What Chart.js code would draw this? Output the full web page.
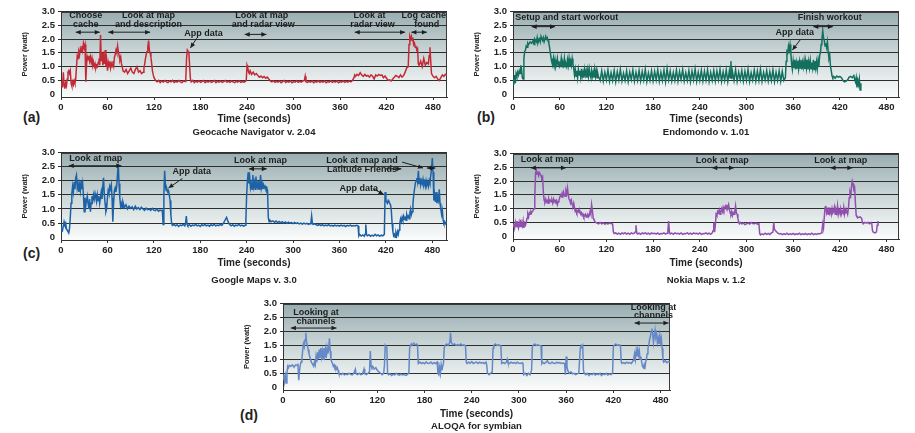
<!DOCTYPE html>
<html lang="en">
<head>
  <meta charset="UTF-8" />
  <title>Power traces of map apps</title>
  <script src="https://cdn.jsdelivr.net/npm/chart.js@4"></script>
  <style>
    body {
      margin: 0;
      background: #fff;
      font-family: "Liberation Sans", Arial, sans-serif;
    }
    #wrap {
      position: relative;
      width: 915px;
      height: 433px;
      overflow: hidden;
    }
    canvas {
      position: absolute;
    }
    .tag {
      position: absolute;
      font-weight: bold;
      font-size: 14px;
      color: #222;
    }
  </style>
</head>
<body>
  <div id="wrap">
    <div class="tag" style="left:23px;top:109px">(a)</div>
    <div class="tag" style="left:477px;top:109px">(b)</div>
    <div class="tag" style="left:23px;top:245px">(c)</div>
    <div class="tag" style="left:240px;top:407px">(d)</div>
  </div>

  <script>
    const FONT = '"Liberation Sans", Arial, sans-serif';

    // axes
    const xTicks = [0, 60, 120, 180, 240, 300, 360, 420, 480];
    const yTicks = [0, 0.5, 1, 1.5, 2, 2.5, 3];
    const yTickLabels = ['0', '0.5', '1.0', '1.5', '2.0', '2.5', '3.0'];

    // [seconds, watt]
    const geocacheTrace = [
      [0,.30],[1,.45],[2,.25],[3,.80],[4,.35],[5,.20],[6,.40],[7,.30],[8,.55],[9,.80],[10,.85],[11,.75],[12,.85],[13,.40],[14,.30],[15,.45],[16,.35],[17,.50],[18,.40],[19,.55],
      [20,1.00],[21,1.40],[22,1.30],[23,1.55],[24,1.45],[25,1.65],[26,1.55],[27,1.75],[28,1.60],[29,1.85],[30,1.70],[31,1.80],[32,.45],[33,1.10],[34,1.35],[35,1.25],[36,1.40],[37,1.20],[38,1.35],[39,1.15],
      [40,1.30],[41,1.05],[42,1.15],[43,1.00],[44,1.10],[45,.95],[46,1.05],[47,1.00],[48,1.15],[49,1.30],[50,1.05],[51,2.15],[52,1.20],[53,1.50],[54,1.05],[55,1.35],[56,1.10],[57,1.60],[58,1.00],[59,1.20],
      [60,.85],[61,1.15],[62,1.00],[63,1.20],[64,.95],[65,1.10],[66,1.00],[67,1.20],[68,1.05],[69,1.35],[70,1.45],[71,1.60],[72,1.50],[73,1.75],[74,1.55],[75,1.40],[76,1.25],[77,1.35],[78,1.10],[79,1.00],
      [80,.85],[82,.80],[84,.90],[86,.75],[88,.85],[90,.95],[92,.80],[94,.75],[96,.90],[98,1.00],[100,.80],[102,.85],[104,.75],[106,.80],[107,.95],[108,1.10],[109,1.30],[110,1.45],[111,1.55],[112,1.70],
      [113,1.95],[114,1.60],[115,1.50],[116,1.35],[117,1.10],[118,.85],[119,.70],[120,.60],[122,.50],[124,.45],[126,.50],[128,.42],[130,.48],[132,.44],[134,.50],[136,.45],[138,.42],[140,.48],[142,.45],[144,.50],
      [146,.43],[148,.47],[150,.44],[152,.50],[154,.45],[156,.42],[158,.48],[160,.46],[161,.55],[162,1.30],[163,1.60],[164,1.55],[165,1.50],[166,1.00],[167,.55],[168,.45],[170,.50],[172,.42],[174,.47],[176,.44],
      [178,.49],[180,.43],[182,.46],[184,.50],[186,.42],[188,.47],[190,.44],[192,.48],[194,.43],[196,.46],[198,.50],[200,.42],[202,.47],[204,.44],[206,.48],[208,.43],[210,.46],[212,.50],[214,.44],[216,.47],
      [218,.43],[220,.48],[222,.45],[224,.42],[226,.47],[228,.44],[230,.49],[232,.43],[234,.46],[236,.44],[238,.47],[239,.50],[240,1.05],[241,.95],[242,.80],[243,.75],[244,.85],[246,.72],[248,.80],[250,.70],
      [252,.75],[254,.68],[256,.62],[258,.66],[260,.60],[262,.64],[264,.58],[266,.62],[268,.55],[270,.48],[272,.45],[274,.49],[276,.43],[278,.47],[280,.44],[282,.48],[284,.42],[286,.46],[288,.50],[290,.43],
      [292,.47],[294,.44],[296,.48],[298,.42],[300,.46],[302,.44],[304,.49],[306,.43],[308,.47],[310,.44],[312,.48],[314,.50],[315,.65],[316,.45],[318,.43],[320,.47],[322,.44],[324,.48],[326,.42],[328,.46],
      [330,.44],[332,.49],[334,.43],[336,.47],[338,.44],[340,.48],[342,.42],[344,.46],[346,.44],[348,.49],[350,.43],[352,.47],[354,.44],[356,.48],[358,.42],[360,.46],[362,.44],[364,.48],[366,.43],[368,.47],
      [370,.44],[372,.48],[374,.45],[376,.50],[378,.60],[379,.70],[380,.65],[382,.72],[384,.68],[386,.78],[388,.70],[390,.65],[392,.72],[394,.66],[396,.68],[398,.62],[400,.70],[402,.65],[404,.55],[406,.70],
      [408,.66],[410,.72],[412,.68],[414,.70],[416,.60],[418,.66],[420,.58],[422,.50],[424,.52],[426,.48],[428,.55],[430,.62],[432,.68],[434,.65],[436,.60],[438,.70],[440,.62],[442,.68],[444,.80],[446,.95],
      [448,1.00],[449,1.80],[450,2.10],[451,2.00],[452,2.10],[453,1.95],[454,2.05],[455,1.80],[456,1.85],[457,1.70],[458,1.75],[459,1.60],[460,1.65],[461,1.10],[462,1.05],[464,1.20],[466,1.00],[468,1.30],[470,1.05],[472,1.15],
      [474,1.10],[475,1.40],[476,1.70],[477,1.20],[478,.75],[480,.65],[482,.60],[484,.65],[486,.55],[488,.50],[490,.60],[492,.70],[494,.65],[496,.72],[498,.68]
    ];

    const endomondoTrace = [
      [0,.55],[1,.35],[2,.70],[3,.40],[4,.75],[5,.65],[6,.80],[7,.70],[8,.85],[9,.75],[10,1.05],[11,.90],[12,.60],[13,.55],[14,1.30],[15,1.55],[16,1.60],[17,1.75],[18,1.70],[19,1.85],
      [20,1.80],[22,1.90],[24,1.85],[26,1.95],[27,1.80],[28,2.00],[30,1.90],[31,2.05],[32,1.85],[34,2.00],[35,1.90],[36,2.10],[38,1.95],[39,2.05],[40,1.90],[42,2.10],[43,2.00],[44,2.05],[45,1.95],[46,1.85],
      [47,1.70],[48,1.50],[49,1.30],[50,1.15],[51,1.05],[52,1.30],[53,1.05],[54,1.25],[55,1.00],[56,1.10],[57,1.30],[58,1.05],[59,1.20],[60,1.00],[61,1.05],[62,1.30],[63,1.00],[64,1.15],[65,1.05],[66,1.30],
      [67,1.00],[68,1.10],[69,1.00],[70,1.25],[71,1.05],[72,1.30],[73,1.00],[74,1.20],[75,1.05],[76,1.30],[77,1.10],[78,.95],[79,.70],[80,.90],[81,.65],[82,.85],[83,.60],[84,.90],[85,.70],[86,.85],
      [87,.62],[88,.92],[89,.65],[90,.80],[91,.60],[92,.90],[93,.70],[94,.85],[95,.60],[96,.88],[97,.65],[98,.92],[99,.70],[100,.60],[101,.85],[102,.65],[103,.80],[104,.60],[105,.90],[106,.65],
      [107,.85],[108,.60],[109,.75],[110,.62],[111,.58],[112,.50],[114,.85],[116,.48],[118,.80],[120,.52],[122,.88],[124,.47],[126,.78],[128,.50],[130,.86],[132,.46],[134,.82],[136,.52],[138,.90],[140,.48],
      [142,.76],[144,.50],[146,.85],[148,.46],[150,.80],[152,.53],[154,.88],[156,.47],[158,.79],[160,.50],[162,.86],[164,.48],[166,.82],[168,.51],[170,.90],[172,.46],[174,.77],[176,.50],[178,.85],[180,.48],
      [182,.83],[184,.52],[186,.89],[188,.47],[190,.80],[192,.50],[194,.87],[196,.46],[198,.93],[200,.52],[202,.84],[204,.48],[206,.79],[208,.50],[210,.88],[212,.47],[214,.82],[216,.53],[218,.90],[220,.48],
      [222,.78],[224,.50],[226,.86],[228,.46],[230,.84],[232,.52],[234,.92],[236,.47],[238,.80],[240,.50],[242,.87],[244,.48],[246,.83],[248,.51],[250,.89],[252,.46],[254,.79],[256,.50],[258,.86],[260,.48],
      [262,.84],[264,.52],[266,.90],[268,.47],[270,.81],[272,.50],[274,.88],[276,.46],[278,.85],[279,.60],[280,1.20],[281,.55],[282,.82],[284,.50],[286,.89],[288,.47],[290,.80],[292,.52],[294,.86],[296,.48],
      [298,.83],[300,.50],[302,.90],[304,.46],[306,.78],[308,.51],[310,.87],[312,.48],[314,.84],[316,.50],[318,.91],[320,.47],[322,.79],[324,.52],[326,.86],[328,.48],[330,.82],[332,.50],[334,.88],[336,.46],
      [338,.80],[340,.50],[342,.85],[344,.47],[346,.83],[348,.50],[350,.60],[351,1.20],[352,1.55],[353,1.50],[354,1.75],[355,1.60],[356,1.80],[357,1.50],[358,1.10],[359,.90],[360,1.20],[361,.95],[362,1.25],[363,.90],
      [364,1.15],[365,.95],[366,1.22],[367,.92],[368,1.18],[369,.95],[370,1.25],[371,.90],[372,1.15],[373,.98],[374,1.22],[375,.92],[376,1.20],[377,.95],[378,1.25],[379,.90],[380,1.18],[381,.96],[382,1.22],[383,.92],
      [384,1.15],[385,.95],[386,1.25],[387,.90],[388,1.20],[389,.95],[390,1.18],[391,.92],[392,1.22],[393,1.00],[394,1.40],[395,1.50],[396,1.80],[397,2.00],[398,2.30],[399,2.05],[400,1.95],[401,1.75],[402,1.85],[403,1.70],
      [404,1.90],[405,1.55],[406,1.30],[407,1.40],[408,1.00],[409,.85],[410,.65],[411,.60],[412,.65],[414,.58],[416,.66],[418,.62],[420,.65],[422,.60],[424,.50],[426,.45],[428,.48],[430,.52],[432,.62],[434,.65],
      [436,.60],[438,.68],[439,.55],[440,.45],[441,.60],[442,.25],[443,.50],[444,.35],[445,.55],[446,.15],[447,.40]
    ];

    const googleTrace = [
      [0,.20],[1,.30],[2,.25],[3,.40],[4,.55],[5,.45],[6,.50],[7,.30],[8,.25],[9,.20],[10,.15],[11,.30],[12,.70],[13,1.20],[14,1.55],[15,1.80],[16,1.60],[17,1.95],[18,1.70],[19,2.10],
      [20,2.20],[21,1.75],[22,1.90],[23,1.60],[24,1.85],[25,1.65],[26,2.00],[27,1.70],[28,1.90],[29,1.50],[30,.90],[31,1.40],[32,1.10],[33,1.30],[34,1.45],[35,1.20],[36,1.00],[37,1.35],[38,.90],[39,1.20],
      [40,1.45],[41,1.30],[42,1.50],[43,1.35],[44,1.55],[45,1.40],[46,1.25],[47,1.50],[48,1.30],[49,1.45],[50,1.20],[51,1.40],[52,1.60],[53,1.35],[54,1.80],[55,2.10],[56,1.50],[57,1.20],[58,.90],[59,1.00],
      [60,1.40],[61,1.65],[62,1.55],[63,1.80],[64,1.70],[65,1.85],[66,1.40],[67,.55],[68,1.20],[69,1.65],[70,1.75],[71,1.60],[72,1.80],[73,2.20],[74,2.60],[75,1.90],[76,1.40],[77,1.10],[78,1.20],[79,1.05],
      [80,1.25],[82,1.05],[84,1.15],[86,1.00],[88,1.10],[90,1.02],[92,1.08],[94,.98],[96,1.10],[98,1.00],[100,1.05],[102,.98],[104,1.06],[106,1.00],[108,.95],[110,1.03],[112,.98],[114,1.00],[116,.95],[118,1.02],
      [120,.96],[122,.94],[124,1.00],[126,.92],[128,.96],[130,.94],[131,.95],[132,.45],[133,1.50],[134,2.35],[135,1.80],[136,1.65],[137,1.70],[138,1.60],[139,1.65],[140,1.50],[141,1.30],[142,.80],[143,.50],
      [144,.42],[146,.45],[148,.40],[150,.44],[152,.38],[154,.43],[156,.41],[158,.45],[160,.40],[161,.48],[162,.75],[163,.45],[164,.40],[166,.44],[168,.39],[170,.43],[172,.41],[174,.45],[176,.40],[178,.43],
      [180,.38],[182,.44],[184,.41],[186,.45],[188,.40],[190,.43],[192,.39],[194,.44],[196,.41],[198,.45],[200,.40],[202,.43],[204,.41],[206,.45],[208,.42],[210,.50],[212,.60],[214,.70],[216,.55],[218,.45],
      [220,.40],[222,.44],[224,.39],[226,.43],[228,.41],[230,.45],[232,.40],[234,.43],[236,.39],[238,.42],[239,.60],[240,1.50],[241,2.00],[242,2.30],[243,1.90],[244,2.10],[245,1.75],[246,1.90],[247,1.70],[248,2.20],
      [249,1.80],[250,1.95],[251,1.70],[252,2.15],[253,1.80],[254,1.75],[255,2.00],[256,1.70],[257,1.85],[258,2.20],[259,1.75],[260,1.90],[261,1.70],[262,1.85],[263,1.75],[264,1.80],[265,1.70],[266,1.75],[267,1.65],[268,.70],
      [269,.55],[270,.60],[272,.55],[274,.58],[276,.53],[278,.57],[280,.52],[282,.56],[284,.51],[286,.55],[288,.50],[290,.54],[292,.49],[294,.53],[296,.50],[298,.52],[300,.48],[302,.52],[304,.49],[306,.51],
      [308,.47],[310,.50],[312,.46],[314,.50],[316,.47],[318,.49],[320,.45],[322,.48],[323,.50],[324,.75],[325,.48],[326,.45],[328,.47],[330,.44],[332,.42],[334,.45],[336,.41],[338,.44],[340,.40],[342,.43],
      [344,.41],[346,.44],[348,.40],[350,.42],[352,.39],[354,.43],[356,.40],[358,.42],[360,.39],[362,.43],[364,.40],[366,.42],[368,.38],[370,.42],[372,.40],[374,.43],[376,.39],[378,.41],[380,.40],[382,.42],
      [384,.40],[385,.05],[386,.10],[388,.04],[390,.08],[392,.03],[393,.10],[394,.45],[395,.08],[396,.05],[398,.09],[400,.03],[402,.07],[404,.04],[406,.10],[408,.05],[410,.08],[412,.03],[414,.07],[416,.05],
      [418,.10],[419,1.60],[420,1.30],[421,1.25],[422,1.20],[423,1.30],[424,1.25],[425,1.20],[426,1.15],[427,.95],[428,.50],[429,.20],[430,.05],[431,.10],[432,.00],[433,.15],[434,.05],[435,.20],[436,.10],[437,.25],
      [438,.50],[439,.65],[440,.55],[441,.70],[442,.60],[443,.75],[444,.65],[445,.70],[446,.60],[447,.80],[448,.70],[449,.75],[450,.65],[451,.85],[452,1.00],[453,.80],[454,.90],[455,1.20],[456,1.50],[457,1.70],
      [458,1.90],[459,2.00],[460,2.10],[461,1.95],[462,2.35],[463,1.90],[464,2.10],[465,1.85],[466,2.00],[467,1.90],[468,2.05],[469,1.85],[470,1.95],[471,1.80],[472,2.00],[473,1.85],[474,1.95],[475,1.80],[476,2.00],[477,1.90],
      [478,2.20],[479,2.40],[480,2.80],[481,2.30],[482,1.30],[483,1.50],[484,1.25],[485,1.60],[486,1.20],[487,1.40],[488,1.30],[489,1.70],[490,1.20],[491,1.00],[492,.80],[493,.95],[494,.60],[495,.50],[496,.55],[497,.48],
      [498,.52],[499,.50]
    ];

    const nokiaTrace = [
      [0,.35],[1,.45],[2,.30],[3,.50],[4,.35],[5,.55],[6,.40],[7,.30],[8,.50],[9,.35],[10,.60],[11,.40],[12,.35],[13,.55],[14,.30],[15,.45],[16,.40],[17,.50],[18,.65],[19,.80],
      [20,.70],[21,.85],[22,.80],[23,.90],[24,.85],[25,.90],[26,.95],[27,1.00],[28,1.50],[29,2.30],[30,2.40],[31,2.25],[32,2.35],[33,2.20],[34,2.30],[35,2.25],[36,2.20],[37,2.10],[38,2.15],[39,1.60],
      [40,1.30],[41,1.25],[42,1.35],[43,1.25],[44,1.30],[45,1.20],[46,1.35],[47,1.25],[48,1.30],[49,1.25],[50,1.30],[51,1.20],[52,1.35],[53,1.25],[54,1.30],[55,1.25],[56,1.30],[57,1.15],[58,1.25],[59,1.30],
      [60,1.40],[61,1.50],[62,1.45],[63,1.55],[64,1.40],[65,1.60],[66,1.50],[67,1.45],[68,1.65],[69,1.55],[70,1.75],[71,1.50],[72,1.35],[73,1.30],[74,1.20],[75,1.30],[76,1.15],[77,1.10],[78,1.20],[79,1.05],
      [80,.90],[81,.95],[82,.85],[83,.90],[84,.95],[85,.85],[86,.90],[87,.80],[88,.85],[89,.75],[90,.80],[91,.70],[92,.75],[93,.80],[94,.70],[95,.75],[96,.80],[97,.70],[98,.75],[99,.90],
      [100,.80],[101,1.15],[102,.95],[103,.65],[104,.60],[105,.55],[106,.50],[108,.48],[110,.45],[112,.50],[114,.45],[116,.48],[118,.44],[120,.47],[122,.45],[124,.48],[126,.46],[128,.44],[129,.15],[130,.10],
      [132,.12],[134,.08],[136,.11],[138,.07],[140,.12],[142,.09],[144,.13],[146,.08],[148,.11],[150,.07],[152,.12],[154,.09],[156,.11],[157,.15],[158,.40],[159,.12],[160,.08],[162,.11],[164,.07],[166,.12],
      [168,.09],[170,.13],[172,.08],[174,.11],[176,.07],[178,.12],[180,.09],[182,.11],[184,.08],[186,.12],[188,.07],[190,.10],[192,.09],[194,.12],[196,.08],[198,.11],[199,.20],[200,.55],[201,.15],[202,.08],
      [204,.11],[206,.07],[208,.12],[210,.09],[212,.11],[214,.08],[216,.12],[218,.07],[220,.10],[222,.09],[224,.12],[226,.08],[228,.11],[230,.07],[232,.12],[234,.09],[236,.11],[238,.08],[240,.12],[242,.07],
      [244,.10],[246,.09],[248,.12],[250,.08],[252,.11],[254,.07],[256,.12],[257,.20],[258,.50],[259,.15],[260,.40],[261,.80],[262,.75],[263,.90],[264,.85],[265,.95],[266,.80],[267,.90],[268,1.00],[269,.90],
      [270,1.05],[271,.95],[272,1.05],[273,1.10],[274,1.00],[275,1.10],[276,1.05],[277,1.15],[278,1.00],[279,.85],[280,.80],[281,.90],[282,.75],[283,.85],[284,.80],[285,.90],[286,1.10],[287,.85],[288,.80],[289,.65],
      [290,.50],[291,.45],[292,.50],[294,.45],[296,.48],[298,.42],[300,.45],[302,.48],[304,.44],[306,.50],[308,.46],[310,.45],[312,.48],[314,.44],[316,.45],[317,.10],[318,.05],[320,.09],[322,.06],[324,.11],
      [326,.07],[328,.10],[330,.06],[332,.12],[334,.15],[335,.50],[336,.25],[338,.18],[340,.12],[342,.08],[344,.10],[346,.06],[348,.09],[350,.07],[352,.11],[354,.06],[356,.09],[358,.07],[360,.10],[362,.06],
      [364,.09],[366,.07],[368,.11],[370,.06],[372,.09],[374,.07],[376,.10],[378,.06],[380,.09],[382,.07],[384,.11],[386,.06],[388,.09],[390,.07],[392,.10],[394,.08],[396,.12],[397,.20],[398,.45],[399,.30],
      [400,.70],[401,1.05],[402,1.10],[403,.85],[404,.95],[405,.80],[406,1.05],[407,.85],[408,.95],[409,.80],[410,1.00],[411,.85],[412,.90],[413,1.05],[414,.80],[415,.95],[416,.85],[417,1.10],[418,.80],[419,.95],
      [420,.85],[421,1.00],[422,.80],[423,.90],[424,.85],[425,1.05],[426,.80],[427,.95],[428,.85],[429,.90],[430,.80],[431,1.00],[432,1.40],[433,1.60],[434,1.50],[435,1.80],[436,2.00],[437,1.90],[438,1.70],[439,1.75],
      [440,1.20],[441,.75],[442,.70],[444,.68],[446,.70],[448,.65],[449,.50],[450,.45],[452,.50],[454,.48],[456,.50],[458,.45],[460,.50],[461,.45],[462,.20],[463,.15],[465,.12],[467,.15],[468,.40],[469,.55]
    ];

    const aloqaTrace = [
      [0,.30],[1,.45],[2,.20],[3,.40],[4,.15],[5,.50],[6,.75],[7,.70],[8,.78],[10,.75],[12,.80],[14,.72],[16,.80],[18,.78],[19,.85],[20,.25],[21,.60],[22,.80],[23,.90],[24,1.00],
      [25,1.30],[26,1.55],[27,1.45],[28,1.70],[29,1.95],[30,1.60],[31,1.50],[32,1.35],[33,1.20],[34,1.10],[35,1.00],[36,.90],[37,.85],[38,.80],[39,.75],[40,.90],[41,.80],[42,1.10],[43,.90],[44,1.25],
      [45,1.00],[46,1.35],[47,1.05],[48,1.40],[49,1.10],[50,1.30],[51,1.00],[52,1.40],[53,1.15],[54,1.35],[55,1.05],[56,1.40],[57,1.20],[58,1.35],[59,1.75],[60,1.30],[61,1.00],[62,.90],[63,.85],[64,.75],
      [65,.80],[66,.70],[67,.75],[68,.65],[69,.70],[70,.60],[71,.50],[72,.48],[74,.45],[76,.50],[78,.44],[80,.47],[82,.45],[84,.50],[86,.46],[88,.44],[90,.50],[92,.65],[93,.48],[95,.45],
      [97,.50],[99,.45],[101,.47],[103,.65],[104,.48],[106,.45],[108,.50],[110,.55],[111,1.30],[112,.75],[113,.70],[114,.75],[116,.65],[118,.70],[120,.60],[122,.55],[124,.50],[126,.45],[128,.50],[129,.80],
      [130,1.50],[131,1.45],[132,1.40],[133,.50],[134,.45],[136,.48],[138,.42],[140,.46],[142,.44],[144,.50],[146,.45],[148,.43],[150,.47],[152,.44],[154,.46],[156,.42],[158,.45],[160,.50],[161,1.40],[162,1.50],
      [163,1.55],[164,1.50],[166,1.58],[168,1.52],[170,1.55],[171,1.50],[172,.85],[174,.90],[176,.85],[178,.88],[180,.84],[182,.90],[184,.86],[186,.85],[188,.90],[190,.84],[192,.88],[194,.85],[196,.90],[197,.50],
      [198,.45],[199,.70],[200,.50],[201,.80],[202,.60],[203,.75],[204,.85],[205,1.40],[206,1.50],[208,1.55],[210,1.50],[212,1.60],[213,1.95],[214,1.60],[216,1.52],[218,1.55],[220,1.50],[222,1.53],[224,1.50],[226,1.55],
      [228,1.50],[230,1.52],[232,1.48],[233,.90],[234,.85],[236,.90],[238,.86],[240,.92],[242,.85],[244,.88],[246,.90],[248,.85],[250,.90],[252,.86],[254,.88],[256,.85],[258,.90],[259,.80],[260,.50],[262,.45],
      [264,.50],[266,.55],[267,1.40],[268,1.50],[270,1.55],[272,1.50],[274,1.52],[276,1.50],[277,1.45],[278,.85],[280,.88],[282,.85],[284,.90],[285,1.00],[286,.88],[288,.85],[290,.90],[292,.86],[294,.88],[296,.85],
      [298,.90],[300,.86],[302,.85],[304,.88],[305,.85],[306,.45],[308,.50],[310,.42],[312,.50],[314,.45],[316,.60],[317,1.45],[318,1.50],[320,1.55],[322,1.50],[324,1.52],[326,1.50],[328,1.48],[329,.85],[330,.90],
      [332,.85],[334,.88],[336,.95],[338,.86],[340,.85],[342,.90],[344,.86],[346,.85],[348,.90],[350,.86],[352,.88],[354,.85],[356,.87],[358,.85],[359,.45],[360,1.10],[361,.75],[362,.60],[364,.50],[366,.55],
      [368,.48],[370,.50],[372,.45],[374,.48],[376,.50],[378,1.40],[379,1.50],[380,1.45],[381,1.50],[382,.60],[383,.50],[385,.45],[387,.50],[389,.42],[391,.48],[393,.45],[395,.50],[397,.44],[399,.48],[401,.45],
      [403,.50],[405,.42],[407,.48],[409,.45],[411,.50],[413,.44],[415,.48],[417,.45],[419,.50],[420,1.45],[421,1.50],[423,1.55],[425,1.50],[427,1.52],[429,1.50],[430,.90],[431,.85],[433,.88],[435,.85],[437,.90],
      [439,.86],[441,.88],[443,.85],[445,.95],[446,1.05],[447,1.20],[448,1.00],[449,1.30],[450,1.10],[451,1.35],[452,1.15],[453,1.30],[454,1.00],[455,1.10],[456,.90],[457,.75],[458,.70],[459,.80],[460,.65],[461,.90],
      [462,1.00],[463,1.20],[464,1.40],[465,1.50],[466,1.70],[467,1.80],[468,2.00],[469,2.10],[470,1.90],[471,1.60],[472,1.85],[473,2.05],[474,1.80],[475,1.90],[476,1.60],[477,1.75],[478,1.55],[479,1.85],[480,1.60],[481,1.75],
      [482,1.40],[483,1.00],[484,.90],[486,.95],[488,.88],[490,.92],[492,.90]
    ];

    // annotation text: [text, seconds, watt, align]
    const geocacheNotes = [
      ['Choose', 32, 2.84], ['cache', 32, 2.52], ['Look at map', 113, 2.84], ['and description', 113, 2.52],
      ['App data', 184, 2.19], ['Look at map', 259, 2.84], ['and radar view', 261, 2.52],
      ['Look at', 398, 2.84], ['radar view', 402, 2.52], ['Log cache', 468, 2.84], ['found', 472, 2.52]
    ];
    // arrows: [t1, w1, t2, w2, double]
    const geocacheArrows = [
      [19, 2.25, 50, 2.25, true], [61, 2.25, 115, 2.25, true], [237, 2.17, 265, 2.17, true],
      [379, 2.25, 444, 2.25, true], [452, 2.25, 472, 2.25, true], [175, 2.03, 167, 1.68, false]
    ];

    const endomondoNotes = [
      ['Setup and start workout', 3, 2.8, 'left'], ['Finish workout', 407, 2.8], ['App data', 362, 2.22]
    ];
    const endomondoArrows = [
      [24, 2.45, 54, 2.45, true], [386, 2.45, 411, 2.45, true], [369, 1.97, 359, 1.6, false]
    ];

    const googleNotes = [
      ['Look at map', 45, 2.79], ['App data', 169, 2.34], ['Look at map', 258, 2.7],
      ['Look at map and', 389, 2.7], ['Latitude Friends', 389, 2.4], ['App data', 385, 1.74]
    ];
    const googleArrows = [
      [10, 2.53, 78, 2.53, true], [157, 2.08, 139, 1.74, false], [243, 2.42, 266, 2.42, true],
      [441, 2.66, 468, 2.45, false], [419, 2.42, 440, 2.42, false], [473, 2.45, 484, 2.45, true],
      [403, 1.72, 417, 1.52, false]
    ];

    const nokiaNotes = [
      ['Look at map', 44, 2.8], ['Look at map', 269, 2.76], ['Look at map', 421, 2.76]
    ];
    const nokiaArrows = [
      [23, 2.48, 68, 2.48, true], [256, 2.48, 284, 2.48, true], [408, 2.48, 436, 2.48, true]
    ];

    const aloqaNotes = [
      ['Looking at', 42, 2.68], ['channels', 42, 2.36], ['Looking at', 471, 2.84], ['channels', 471, 2.58]
    ];
    const aloqaArrows = [
      [10, 2.12, 68, 2.12, true], [447, 2.3, 490, 2.3, true]
    ];

    const panels = [
      { key: 'a', box: [20, 3, 433, 136], xMax: 498, xHeight: 28, titlePad: 1, color: '#c42a36',
        trace: geocacheTrace, title: 'Geocache Navigator v. 2.04', notes: geocacheNotes, arrows: geocacheArrows },
      { key: 'b', box: [472, 3, 433, 136], xMax: 496, xHeight: 28, titlePad: 1, color: '#13705e',
        trace: endomondoTrace, title: 'Endomondo v. 1.01', notes: endomondoNotes, arrows: endomondoArrows },
      { key: 'c', box: [20, 144, 433, 143], xMax: 499, xHeight: 29, titlePad: 5, color: '#1d62a6',
        trace: googleTrace, title: 'Google Maps v. 3.0', notes: googleNotes, arrows: googleArrows },
      { key: 'd', box: [472, 145, 433, 142], xMax: 496, xHeight: 30, titlePad: 5, color: '#914fb0',
        trace: nokiaTrace, title: 'Nokia Maps v. 1.2', notes: nokiaNotes, arrows: nokiaArrows },
      { key: 'e', box: [242, 295, 434, 138], xMax: 492, xHeight: 30, titlePad: 0, color: '#6489c6',
        trace: aloqaTrace, title: 'ALOQA for symbian', notes: aloqaNotes, arrows: aloqaArrows }
    ];

    function arrowHead(ctx, x, y, ang) {
      const L = 5, W = 2.3;
      ctx.beginPath();
      ctx.moveTo(x, y);
      ctx.lineTo(x - L * Math.cos(ang) + W * Math.sin(ang), y - L * Math.sin(ang) - W * Math.cos(ang));
      ctx.lineTo(x - L * Math.cos(ang) - W * Math.sin(ang), y - L * Math.sin(ang) + W * Math.cos(ang));
      ctx.closePath();
      ctx.fill();
    }

    // gradient backdrop, frame and the notes/arrows
    function panelDeco(p) {
      return {
        id: 'deco' + p.key,
        beforeDraw(chart) {
          const { ctx, chartArea: a } = chart;
          const g = ctx.createLinearGradient(0, a.top, 0, a.bottom);
          g.addColorStop(0, '#98adb0');
          g.addColorStop(0.45, '#c7d3d4');
          g.addColorStop(1, '#fbfcfc');
          ctx.save();
          ctx.fillStyle = g;
          ctx.fillRect(a.left, a.top, a.right - a.left, a.bottom - a.top);
          ctx.strokeStyle = '#3a3a3a';
          ctx.lineWidth = 1;
          ctx.strokeRect(Math.round(a.left) + 0.5, Math.round(a.top) + 0.5,
            Math.round(a.right - a.left) - 1, Math.round(a.bottom - a.top) - 1);
          ctx.restore();
        },
        afterDraw(chart) {
          const ctx = chart.ctx, xs = chart.scales.x, ys = chart.scales.y;
          ctx.save();
          ctx.fillStyle = '#1e1e1e';
          ctx.strokeStyle = '#1e1e1e';
          ctx.lineWidth = 1;
          ctx.font = 'bold 9px ' + FONT;
          ctx.textBaseline = 'middle';
          p.notes.forEach(([text, t, w, align]) => {
            ctx.textAlign = align || 'center';
            ctx.fillText(text, xs.getPixelForValue(t), ys.getPixelForValue(w));
          });
          p.arrows.forEach(([t1, w1, t2, w2, both]) => {
            const x1 = xs.getPixelForValue(t1), y1 = ys.getPixelForValue(w1);
            const x2 = xs.getPixelForValue(t2), y2 = ys.getPixelForValue(w2);
            ctx.beginPath();
            ctx.moveTo(x1, y1);
            ctx.lineTo(x2, y2);
            ctx.stroke();
            const ang = Math.atan2(y2 - y1, x2 - x1);
            arrowHead(ctx, x2, y2, ang);
            if (both) arrowHead(ctx, x1, y1, ang + Math.PI);
          });
          ctx.restore();
        }
      };
    }

    function drawPanel(p) {
      const canvas = document.createElement('canvas');
      canvas.width = p.box[2];
      canvas.height = p.box[3];
      canvas.style.left = p.box[0] + 'px';
      canvas.style.top = p.box[1] + 'px';
      document.getElementById('wrap').appendChild(canvas);

      const tickFont = { family: FONT, size: 9.5, weight: 'bold', lineHeight: '11px' };

      new Chart(canvas, {
        type: 'line',
        data: {
          datasets: [{
            data: p.trace.map(d => ({ x: d[0], y: d[1] })),
            borderColor: p.color,
            borderWidth: 1.5,
            pointRadius: 0,
            tension: 0
          }]
        },
        options: {
          responsive: false,
          animation: false,
          events: [],
          layout: { padding: { top: 8, right: 6, left: 0, bottom: 0 } },
          plugins: {
            legend: { display: false },
            tooltip: { enabled: false },
            title: {
              display: true,
              text: p.title,
              position: 'bottom',
              fullSize: false,
              color: '#222',
              font: { family: FONT, size: 9.5, weight: 'bold', lineHeight: '12px' },
              padding: { top: p.titlePad, bottom: 1 }
            }
          },
          scales: {
            x: {
              type: 'linear',
              min: 0,
              max: p.xMax,
              afterFit: s => { s.height = p.xHeight; },
              afterBuildTicks: s => { s.ticks = xTicks.map(v => ({ value: v })); },
              ticks: { autoSkip: false, maxRotation: 0, padding: 2, color: '#222', font: tickFont },
              grid: { drawOnChartArea: false, tickLength: 3, color: '#333' },
              border: { color: '#333' },
              title: {
                display: true,
                text: 'Time (seconds)',
                padding: 0,
                color: '#222',
                font: { family: FONT, size: 10, weight: 'bold', lineHeight: '12px' }
              }
            },
            y: {
              min: -0.1,
              max: 3,
              afterFit: s => { s.width = 41; },
              afterBuildTicks: s => { s.ticks = yTicks.map(v => ({ value: v })); },
              ticks: {
                autoSkip: false,
                padding: 3,
                color: '#222',
                font: tickFont,
                callback: (v, i) => yTickLabels[i]
              },
              grid: {
                tickLength: 3,
                color: c => (c.tick && c.tick.value > 0) ? '#2e2e2e' : 'transparent'
              },
              border: { color: '#333' },
              title: {
                display: true,
                text: 'Power (watt)',
                padding: 0,
                color: '#222',
                font: { family: FONT, size: 7.5, weight: 'bold', lineHeight: '9px' }
              }
            }
          }
        },
        plugins: [panelDeco(p)]
      });
    }

    panels.forEach(drawPanel);
  </script>
</body>
</html>
